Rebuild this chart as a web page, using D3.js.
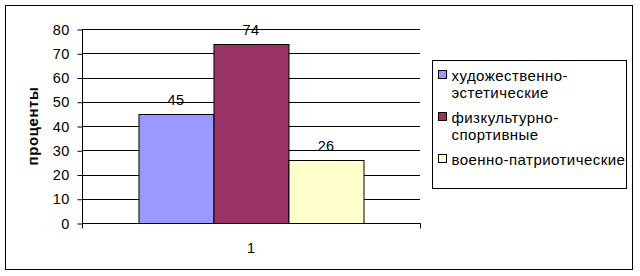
<!DOCTYPE html>
<html>
<head>
<meta charset="utf-8">
<script src="https://cdn.jsdelivr.net/npm/d3@7"></script>
<style>
  body { margin: 0; background: #fff; }
  text { font-family: "Liberation Sans", Arial, sans-serif; }
</style>
</head>
<body>
<div id="chart"></div>
<script>
// data
const categories = ["1"]
const seriesNames = ["художественно-эстетические", "физкультурно-спортивные", "военно-патриотические"]
const seriesLabels = [["художественно-", "эстетические"], ["физкультурно-", "спортивные"], ["военно-патриотические"]]
const seriesValues = [45, 74, 26]
const seriesColors = ["#9999ff", "#993366", "#ffffcc"]
const yTicks = [0, 10, 20, 30, 40, 50, 60, 70, 80]

const W = 640, H = 276
const plot = { left: 82, right: 420, top: 29, bottom: 223 }

const svg = d3.select("#chart").append("svg")
  .attr("width", W).attr("height", H)

// outer frame
svg.append("rect")
  .attr("x", 5.5).attr("y", 5.5)
  .attr("width", 627).attr("height", 264)
  .attr("fill", "#fff").attr("stroke", "#000")

// scales
const x0 = d3.scaleBand()
  .domain(categories)
  .range([plot.left, plot.right])
  .paddingOuter(0.251)
const x1 = d3.scaleBand()
  .domain(seriesNames)
  .range([0, x0.bandwidth()])
const y = d3.scaleLinear()
  .domain([0, 80])
  .range([plot.bottom, plot.top])

// gridlines
svg.append("g").selectAll("line")
  .data(yTicks.filter(d => d > 0))
  .join("line")
  .attr("x1", plot.left).attr("x2", plot.right)
  .attr("y1", d => Math.round(y(d)) + 0.5).attr("y2", d => Math.round(y(d)) + 0.5)
  .attr("stroke", "#000")

// y axis
const yAxis = d3.axisLeft(y).tickValues(yTicks).tickSize(5).tickPadding(8)
const gy = svg.append("g")
  .attr("transform", "translate(" + (plot.left + 0.5) + ",0.5)")
  .call(yAxis)
gy.select(".domain").attr("d", "M0," + plot.top + "V" + plot.bottom)
gy.selectAll("text")
  .attr("font-size", 14.5)
  .attr("letter-spacing", 0.3)
  .attr("font-family", "Liberation Sans, Arial, sans-serif")
  .attr("fill", "#000")

// bars
const group = svg.append("g")
  .attr("transform", "translate(" + x0("1") + ",0)")
group.selectAll("rect")
  .data(seriesValues)
  .join("rect")
  .attr("x", (d, i) => Math.round(x1(seriesNames[i])) + 0.5)
  .attr("y", d => Math.round(y(d)) + 0.5)
  .attr("width", Math.round(x1.bandwidth()))
  .attr("height", d => Math.round(y(0)) - Math.round(y(d)))
  .attr("fill", (d, i) => seriesColors[i])
  .attr("stroke", "#000")

// value labels
group.selectAll("text.val")
  .data(seriesValues)
  .join("text")
  .attr("class", "val")
  .attr("x", (d, i) => x1(seriesNames[i]) + x1.bandwidth() / 2)
  .attr("y", d => y(d) - 9)
  .attr("text-anchor", "middle")
  .attr("font-size", 14.5)
  .attr("letter-spacing", 0.3)
  .text(d => d)

// x axis
const xAxis = d3.axisBottom(x0).tickSize(0).tickPadding(19)
const gx = svg.append("g")
  .attr("transform", "translate(0," + (plot.bottom + 0.5) + ")")
  .call(xAxis)
gx.select(".domain").attr("d", "M" + (plot.left + 0.5) + ",5V0H" + (plot.right + 0.5) + "V5")
gx.selectAll("text").attr("font-size", 14.5).attr("font-family", "Liberation Sans, Arial, sans-serif").attr("fill", "#000")

// y title
svg.append("text")
  .attr("transform", "translate(38," + ((plot.top + plot.bottom) / 2) + ") rotate(-90)")
  .attr("text-anchor", "middle")
  .attr("font-size", 15)
  .attr("letter-spacing", 0.6)
  .attr("font-weight", "bold")
  .text("проценты")

// legend
const legend = svg.append("g").attr("transform", "translate(432.5,60.5)")
legend.append("rect")
  .attr("width", 194).attr("height", 128)
  .attr("fill", "#fff").attr("stroke", "#000")

const lineH = 17
let base = 20
seriesLabels.forEach(function(lines, i) {
  legend.append("rect")
    .attr("x", 6).attr("y", base - 10)
    .attr("width", 8).attr("height", 8)
    .attr("fill", seriesColors[i]).attr("stroke", "#000")
  lines.forEach(function(t, j) {
    legend.append("text")
      .attr("x", 19).attr("y", base + j * lineH)
      .attr("font-size", 15)
      .attr("letter-spacing", 0.45)
      .text(t)
  })
  base += lines.length * lineH + 8
})
</script>
</body>
</html>
